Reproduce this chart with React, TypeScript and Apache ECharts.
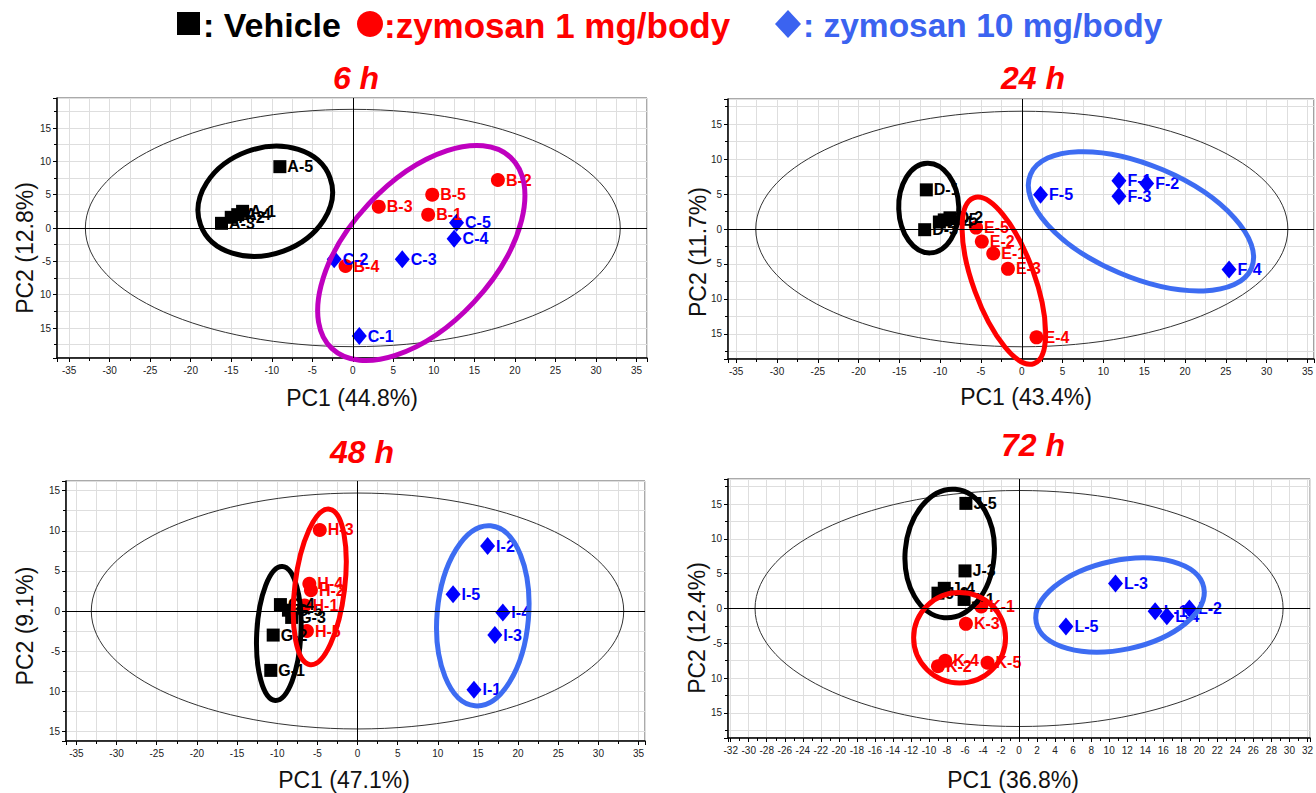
import React, { useEffect, useRef } from 'react';
import * as echarts from 'echarts';

type Pt = [number, number, string];
type Ell = [number, number, number, number, number]; // cx, cy, semi-axis a (PC1 units), semi-axis b (PC2 units), angle deg

// ---------- 6 h ----------
const h6Vehicle: Pt[] = [[-13.6, 2.5, 'A-1'], [-15.0, 1.6, 'A-2'], [-16.2, 0.7, 'A-3'], [-14.2, 2.0, 'A-4'], [-9.0, 9.2, 'A-5']];
const h6Zymo1: Pt[] = [[9.3, 2.0, 'B-1'], [17.9, 7.2, 'B-2'], [3.2, 3.2, 'B-3'], [-0.9, -5.7, 'B-4'], [9.8, 5.0, 'B-5']];
const h6Zymo10: Pt[] = [[0.8, -16.2, 'C-1'], [-2.3, -4.7, 'C-2'], [6.1, -4.7, 'C-3'], [12.5, -1.6, 'C-4'], [12.8, 0.8, 'C-5']];
const h6T2: [number, number] = [33, 17.8];
const h6Groups: Ell[] = [[-10.8, 4.0, 8.5, 7.95, 20], [8.45, -3.75, 16.15, 10.8, 47]];
const h6GroupColors = ['#000000', '#bf00bf'];

// ---------- 24 h ----------
const h24Vehicle: Pt[] = [[-11.7, 5.6, 'D-1'], [-8.8, 1.6, 'D-2'], [-11.9, -0.1, 'D-3'], [-10.1, 1.0, 'D-4'], [-9.5, 1.3, 'D-5']];
const h24Zymo1: Pt[] = [[-3.5, -3.5, 'E-1'], [-4.9, -1.8, 'E-2'], [-1.7, -5.7, 'E-3'], [1.8, -15.5, 'E-4'], [-5.6, 0.2, 'E-5']];
const h24Zymo10: Pt[] = [[11.9, 6.9, 'F-1'], [15.3, 6.5, 'F-2'], [11.9, 4.7, 'F-3'], [25.4, -5.8, 'F-4'], [2.3, 4.9, 'F-5']];
const h24T2: [number, number] = [32.6, 16.85];
const h24Groups: Ell[] = [[-11.4, 3.0, 5.5, 4.3, 92], [-2.2, -7.4, 10.8, 4.4, 110], [14.6, 1.1, 14.7, 8.0, -23]];
const h24GroupColors = ['#000000', '#ff0000', '#3d6cf2'];

// ---------- 48 h ----------
const h48Vehicle: Pt[] = [[-10.8, -7.4, 'G-1'], [-10.5, -3.0, 'G-2'], [-8.2, -0.8, 'G-3'], [-9.6, 0.8, 'G-4'], [-8.6, 0.1, 'G-5']];
const h48Zymo1: Pt[] = [[-6.6, 0.7, 'H-1'], [-5.8, 2.6, 'H-2'], [-4.7, 10.1, 'H-3'], [-6.0, 3.4, 'H-4'], [-6.3, -2.5, 'H-5']];
const h48Zymo10: Pt[] = [[14.5, -9.8, 'I-1'], [16.2, 8.1, 'I-2'], [17.1, -3.0, 'I-3'], [18.1, -0.2, 'I-4'], [11.9, 2.1, 'I-5']];
const h48T2: [number, number] = [33.15, 14.7];
const h48Groups: Ell[] = [[-9.8, -2.8, 8.35, 2.75, 87], [-4.7, 3.0, 9.75, 3.1, 83], [15.6, -0.6, 11.25, 5.7, 85]];
const h48GroupColors = ['#000000', '#ff0000', '#3d6cf2'];

// ---------- 72 h ----------
const h72Vehicle: Pt[] = [[-6.1, 1.3, 'J-1'], [-9.0, 2.2, 'J-2'], [-6.0, 5.4, 'J-3'], [-8.3, 2.9, 'J-4'], [-5.9, 15.1, 'J-5']];
const h72Zymo1: Pt[] = [[-4.2, 0.3, 'K-1'], [-9.0, -8.3, 'K-2'], [-5.9, -2.2, 'K-3'], [-8.2, -7.5, 'K-4'], [-3.5, -7.8, 'K-5']];
const h72Zymo10: Pt[] = [[15.1, -0.4, 'L-1'], [18.9, 0.0, 'L-2'], [10.7, 3.6, 'L-3'], [16.4, -1.1, 'L-4'], [5.2, -2.6, 'L-5']];
const h72T2: [number, number] = [29.3, 16.95];
const h72Groups: Ell[] = [[-7.7, 7.9, 7.15, 6.4, 85], [-6.6, -4.2, 5.1, 6.5, 0], [11.2, 0.5, 9.5, 6.4, 12]];
const h72GroupColors = ['#000000', '#ff0000', '#3d6cf2'];

const titles = ['6 h', '24 h', '48 h', '72 h'];
const pc1Names = ['PC1 (44.8%)', 'PC1 (43.4%)', 'PC1 (47.1%)', 'PC1 (36.8%)'];
const pc2Names = ['PC2 (12.8%)', 'PC2 (11.7%)', 'PC2 (9.1%)', 'PC2 (12.4%)'];
const legendLabels = [': Vehicle', ':zymosan 1 mg/body', ': zymosan 10 mg/body'];

const FONT = "'Liberation Sans', Arial, sans-serif";
const NARROW = "'Liberation Sans Narrow', 'Liberation Sans', Arial, sans-serif";

// layout (pixels)
const grids = [
  { left: 57, top: 98, width: 590, height: 260 },
  { left: 728, top: 99, width: 587, height: 260 },
  { left: 66, top: 481, width: 579, height: 260 },
  { left: 728, top: 479, width: 584, height: 259 },
];
const xRanges: [number, number, number, number][] = [
  [-36.5, 36.3, 14, 2],
  [-36, 35.8, 14, 2],
  [-36.3, 35.8, 14, 2],
  [-32.3, 32.3, 32, 2],
];
const yRanges: [number, number][] = [[-19.5, 19.5], [-18.6, 18.6], [-16.2, 16.2], [-18.6, 18.6]];

const panels = [
  { v: h6Vehicle, z1: h6Zymo1, z10: h6Zymo10, t2: h6T2, groups: h6Groups, gc: h6GroupColors },
  { v: h24Vehicle, z1: h24Zymo1, z10: h24Zymo10, t2: h24T2, groups: h24Groups, gc: h24GroupColors },
  { v: h48Vehicle, z1: h48Zymo1, z10: h48Zymo10, t2: h48T2, groups: h48Groups, gc: h48GroupColors },
  { v: h72Vehicle, z1: h72Zymo1, z10: h72Zymo10, t2: h72T2, groups: h72Groups, gc: h72GroupColors },
];

const GRID_COLOR = '#dedede';

function buildOption() {
  const xAxis: any[] = [];
  const yAxis: any[] = [];
  const series: any[] = [];
  const graphic: any[] = [];

  panels.forEach((p, i) => {
    const [xmin, xmax, xsplit, xminor] = xRanges[i];
    xAxis.push({
      type: 'value', gridIndex: i, min: xmin, max: xmax, splitNumber: xsplit,
      axisLine: { show: true, onZero: false, lineStyle: { color: '#000', width: 1.5 } },
      axisTick: { show: true, length: 4, lineStyle: { color: '#000' } },
      minorTick: { show: true, splitNumber: xminor, length: 3, lineStyle: { color: '#000' } },
      splitLine: { show: true, lineStyle: { color: GRID_COLOR } },
      minorSplitLine: { show: i !== 3, lineStyle: { color: GRID_COLOR } },
      axisLabel: { showMinLabel: false, showMaxLabel: false, interval: 0, fontSize: 10, color: '#222', margin: 7, fontFamily: NARROW },
    });
    const [ymin, ymax] = yRanges[i];
    yAxis.push({
      type: 'value', gridIndex: i, min: ymin, max: ymax, splitNumber: 8,
      axisLine: { show: true, onZero: false, lineStyle: { color: '#000', width: 1.5 } },
      axisTick: { show: true, length: 4, lineStyle: { color: '#000' } },
      minorTick: { show: true, splitNumber: 2, length: 3, lineStyle: { color: '#000' } },
      splitLine: { show: true, lineStyle: { color: GRID_COLOR } },
      minorSplitLine: { show: true, lineStyle: { color: GRID_COLOR } },
      axisLabel: {
        showMinLabel: false, showMaxLabel: false, fontSize: 10, color: '#222', margin: 6, fontFamily: NARROW,
        formatter: (v: number) => (i === 1 ? String(Math.abs(v)) : v <= -10 ? String(-v) : String(v)),
      },
    });

    // Hotelling T2 ellipse
    series.push({
      type: 'custom', xAxisIndex: i, yAxisIndex: i, z: 1, silent: true,
      data: [[0, 0, p.t2[0], p.t2[1]]],
      renderItem: (_params: any, api: any) => {
        const c = api.coord([api.value(0), api.value(1)]);
        const s = api.size([api.value(2), api.value(3)]);
        return { type: 'ellipse', shape: { cx: c[0], cy: c[1], rx: s[0], ry: s[1] }, style: { fill: 'none', stroke: '#333', lineWidth: 1 } };
      },
    });

    const scatter = (pts: Pt[], symbol: string, size: any, color: string, name: string, extra: any = {}) => ({
      type: 'scatter', name, xAxisIndex: i, yAxisIndex: i, z: 2, symbol, symbolSize: size,
      itemStyle: { color, opacity: 1 },
      label: { show: true, position: 'right', distance: 1, formatter: '{b}', color, fontSize: 16, fontWeight: 'bold', fontFamily: FONT },
      labelLayout: { hideOverlap: false },
      data: pts.map(([x, y, n]) => ({ value: [x, y], name: n })),
      ...extra,
    });
    series.push(scatter(p.v, 'rect', 13, '#000000', 'Vehicle', {
      markLine: {
        silent: true, symbol: 'none', label: { show: false },
        lineStyle: { color: '#000', width: 1, type: 'solid' },
        data: [{ xAxis: 0 }, { yAxis: 0 }],
      },
    }));
    series.push(scatter(p.z1, 'circle', 14, '#ff0000', 'zymosan 1 mg/body'));
    series.push(scatter(p.z10, 'diamond', [15, 18], '#0000ff', 'zymosan 10 mg/body'));

    // group ellipses
    p.groups.forEach((g, k) => {
      series.push({
        type: 'custom', xAxisIndex: i, yAxisIndex: i, z: 3, silent: true,
        data: [g],
        renderItem: (_params: any, api: any) => {
          const c = api.coord([api.value(0), api.value(1)]);
          const s = api.size([api.value(2), api.value(3)]);
          return {
            type: 'ellipse', x: c[0], y: c[1], rotation: (api.value(4) * Math.PI) / 180,
            shape: { cx: 0, cy: 0, rx: s[0], ry: s[1] },
            style: { fill: 'none', stroke: p.gc[k], lineWidth: 5 },
          };
        },
      });
    });
  });

  // titles
  const titlePos = [[356, 78], [1033, 78], [362, 452], [1033, 445]];
  titles.forEach((t, i) => {
    graphic.push({
      type: 'text', x: titlePos[i][0], y: titlePos[i][1], z: 10,
      style: { text: t, fill: '#ff0000', fontSize: 32, fontWeight: 'bold', fontStyle: 'italic', fontFamily: FONT, align: 'center', verticalAlign: 'middle' },
    });
  });
  const xNamePos = [[352, 398], [1026, 397], [344, 780], [1013, 780]];
  pc1Names.forEach((t, i) => {
    graphic.push({
      type: 'text', x: xNamePos[i][0], y: xNamePos[i][1], z: 10,
      style: { text: t, fill: '#111', fontSize: 23, fontFamily: FONT, align: 'center', verticalAlign: 'middle' },
    });
  });
  const yNamePos = [[25, 248], [698, 252], [25, 626], [697, 628]];
  pc2Names.forEach((t, i) => {
    graphic.push({
      type: 'text', x: yNamePos[i][0], y: yNamePos[i][1], rotation: Math.PI / 2, z: 10,
      style: { text: t, fill: '#111', fontSize: 23, fontFamily: FONT, align: 'center', verticalAlign: 'middle' },
    });
  });

  // legend
  graphic.push({ type: 'rect', shape: { x: 177, y: 12, width: 23, height: 23 }, style: { fill: '#000' } });
  graphic.push({ type: 'circle', shape: { cx: 370, cy: 24, r: 13 }, style: { fill: '#ff0000' } });
  graphic.push({ type: 'polygon', shape: { points: [[788, 10], [801, 24], [788, 38], [775, 24]] }, style: { fill: '#3b63f0' } });
  const legendX = [203, 384, 803];
  const legendSizes = [34, 35, 33.5];
  const legendColors = ['#000000', '#ff0000', '#3b63f0'];
  legendLabels.forEach((t, i) => {
    graphic.push({
      type: 'text', x: legendX[i], y: 25,
      style: { text: t, fill: legendColors[i], fontSize: legendSizes[i], fontWeight: 'bold', fontFamily: FONT, align: 'left', verticalAlign: 'middle' },
    });
  });

  return {
    animation: false,
    backgroundColor: '#ffffff',
    grid: grids.map((g) => ({ ...g, show: true, borderColor: '#555', borderWidth: 1, containLabel: false })),
    xAxis, yAxis, series, graphic,
  };
}

export default function App() {
  const ref = useRef<HTMLDivElement>(null);
  useEffect(() => {
    if (!ref.current) return;
    const chart = echarts.init(ref.current, undefined, { renderer: 'svg' });
    chart.setOption(buildOption() as any);
    return () => chart.dispose();
  }, []);
  return <div ref={ref} style={{ position: 'absolute', left: 0, top: 0, width: 1316, height: 793 }} />;
}
